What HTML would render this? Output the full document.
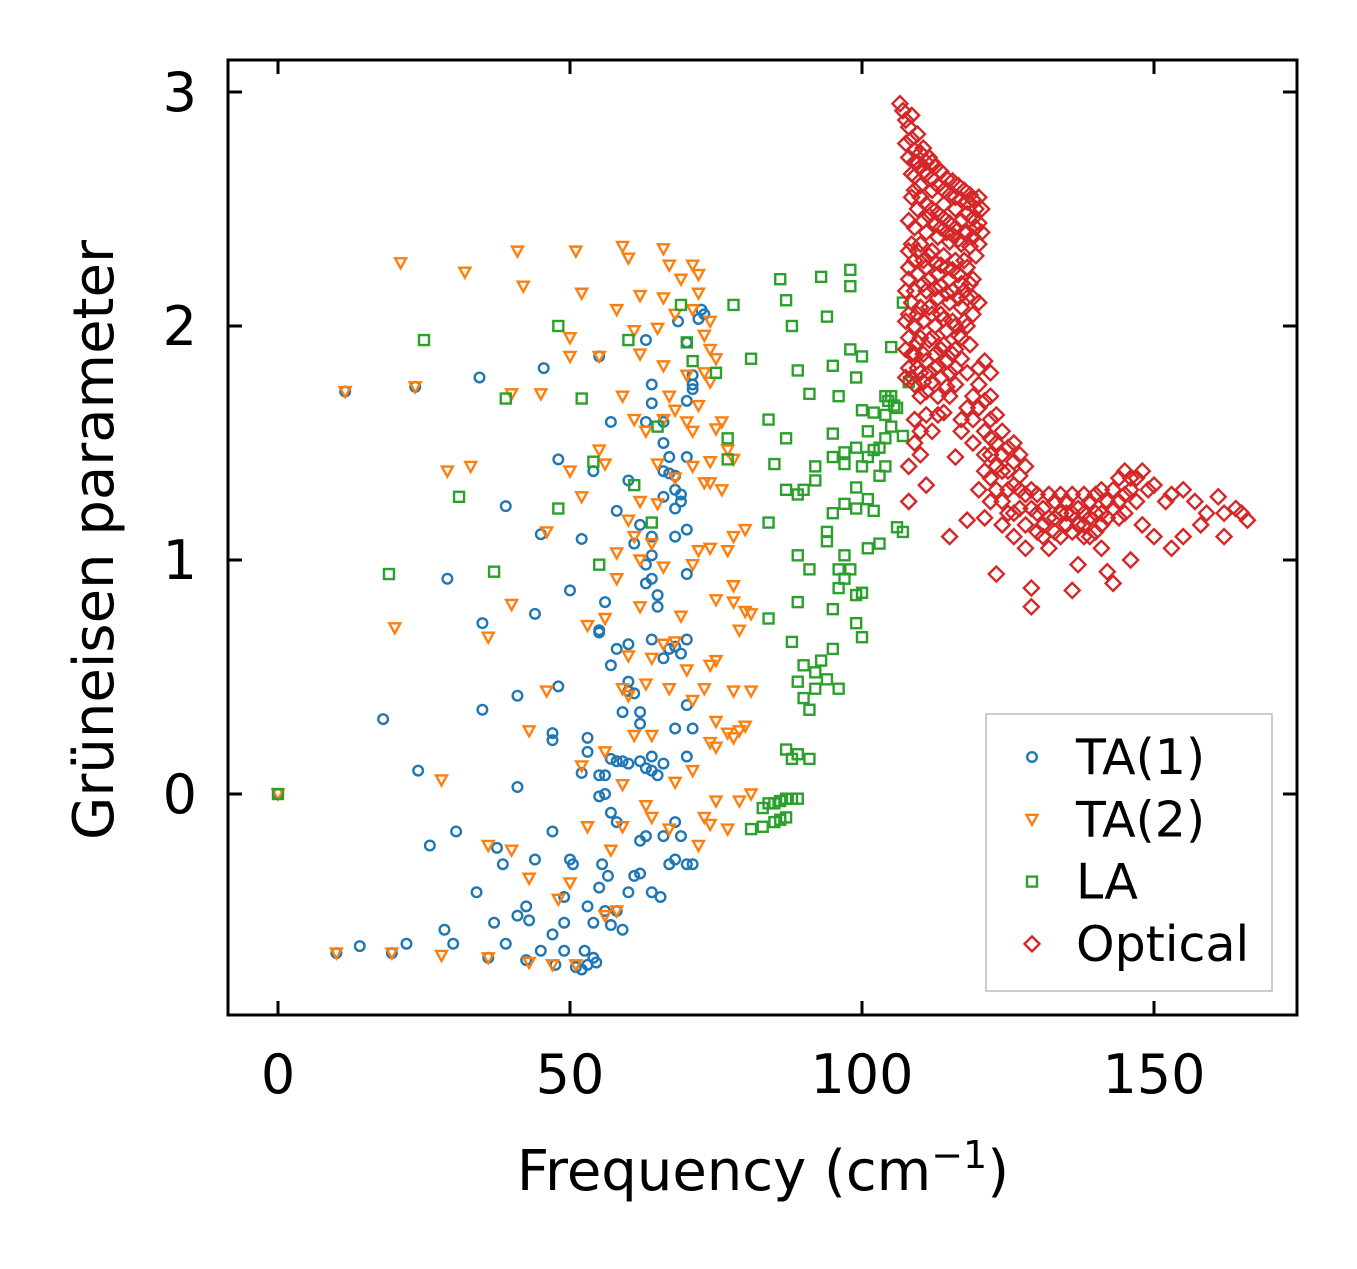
<!DOCTYPE html>
<html><head><meta charset="utf-8">
<style>
html,body{margin:0;padding:0;background:#fff;}
svg text{font-family:"DejaVu Sans","Liberation Sans",sans-serif;fill:#000;}
</style></head>
<body>
<svg id="chart" width="1357" height="1264" xmlns="http://www.w3.org/2000/svg">
<rect x="0" y="0" width="1357" height="1264" fill="#fff"/>
<g id="marks"></g>
<rect x="228" y="60" width="1069" height="955" fill="none" stroke="#000" stroke-width="3"/>
<g id="axes"></g>
<text x="763" y="1190" font-size="56" text-anchor="middle">Frequency (cm<tspan dy="-22" font-size="38">−1</tspan><tspan dy="22">)</tspan></text>
<text transform="translate(113,540) rotate(-90)" font-size="56" text-anchor="middle">Grüneisen parameter</text>
<g>
<rect x="986" y="714" width="286" height="277" fill="#fff" stroke="#bbb" stroke-width="1.5"/>
<g id="legend-items"></g>
</g>
</svg>
<script>
const xTicks=[0,50,100,150];
const yTicks=[0,1,2,3];
const ta1=[[0,0],[11.5,1.72],[23.5,1.74],[34.5,1.78],[45.5,1.82],[55,1.87],[63,1.94],[68.5,2.02],[72.5,2.07],[10,-0.68],[14,-0.65],[22,-0.64],[19.5,-0.68],[28.5,-0.58],[30,-0.64],[26,-0.22],[30.5,-0.16],[34,-0.42],[37,-0.55],[36,-0.7],[38.5,-0.3],[37.5,-0.23],[39,-0.64],[41,-0.52],[42.5,-0.48],[43,-0.54],[42.5,-0.71],[44,-0.28],[45,-0.67],[47,-0.6],[47,-0.16],[47.5,-0.73],[49,-0.44],[49,-0.55],[50,-0.28],[50.5,-0.3],[49,-0.67],[51,-0.74],[52.5,-0.67],[53,-0.73],[54,-0.7],[54.5,-0.72],[52,-0.75],[53,-0.48],[54,-0.55],[55,-0.4],[56,-0.5],[56.5,-0.35],[55.5,-0.3],[57,-0.56],[58,-0.5],[59,-0.58],[60,-0.42],[61,-0.35],[62,-0.34],[62,-0.2],[63,-0.18],[64,-0.42],[66,-0.18],[65.5,-0.44],[67,-0.3],[68,-0.28],[70,-0.3],[71,-0.3],[68,-0.12],[69,-0.18],[56,0],[55,-0.01],[57,-0.08],[58,-0.12],[56,0.08],[57,0.15],[58,0.14],[59,0.14],[60,0.13],[62,0.14],[63,0.11],[64,0.1],[64,0.16],[65,0.08],[66,0.13],[70,0.16],[71,0.28],[68,0.28],[70,0.38],[69,0.6],[66,0.58],[67,0.62],[68,0.63],[70,0.66],[61,0.43],[62,0.35],[62,0.3],[60,0.44],[60,0.48],[59,0.35],[58,0.62],[57,0.55],[55,0.69],[55,0.7],[56,0.82],[60,0.64],[64,0.66],[64,0.92],[65,0.85],[65,0.8],[63,0.98],[64,1.02],[63,0.9],[61,1.07],[62,1.15],[64,1.1],[66,1.27],[67,1.37],[67,1.44],[66,1.5],[68,1.3],[68,1.36],[69,1.28],[69,1.25],[70,1.13],[68,1.1],[70,0.94],[70,1.44],[70,1.68],[71,1.75],[71,1.79],[71,1.73],[70,1.93],[72,2.03],[73,2.05],[64,1.75],[64,1.67],[63,1.59],[66,1.59],[60,1.34],[58,1.21],[57,1.59],[54,1.38],[52,1.09],[50,0.87],[48,1.43],[45,1.11],[44,0.77],[35,0.73],[35,0.36],[29,0.92],[39,1.23],[41,0.42],[47,0.23],[47,0.26],[48,0.46],[52,0.09],[53,0.24],[53,0.18],[55,0.08],[41,0.03],[24,0.1],[18,0.32],[66,1.38],[68,1.22]];
const ta2=[[0,0],[11.5,1.72],[23.5,1.74],[55,1.87],[21,2.27],[32,2.23],[41,2.32],[51,2.32],[59,2.34],[66,2.33],[60,2.29],[67,2.26],[66,2.12],[62,2.13],[52,2.14],[42,2.17],[69,2.2],[71,2.26],[72,2.22],[72,2.14],[71,2.07],[74,2.02],[73,1.96],[74,1.9],[75,1.86],[73,1.8],[68,2.05],[65,1.99],[61,1.98],[58,2.07],[50,1.95],[50,1.87],[45,1.71],[40,1.71],[62,1.88],[66,1.83],[70,1.79],[74,1.76],[68,1.64],[61,1.6],[59,1.7],[67,1.7],[72,1.66],[70,1.59],[75,1.56],[76,1.59],[71,1.55],[66,1.6],[63,1.55],[55,1.47],[56,1.41],[50,1.38],[52,1.27],[46,1.12],[33,1.4],[29,1.38],[40,0.81],[36,0.67],[20,0.71],[65,1.41],[71,1.4],[74,1.42],[77,1.47],[78,1.43],[76,1.3],[73,1.33],[74,1.33],[68,1.35],[62,1.25],[65,1.24],[60,1.17],[61,1.1],[64,1.07],[62,1.0],[58,1.03],[58,0.92],[66,0.97],[71,0.98],[72,1.04],[74,1.05],[77,1.04],[78,1.1],[80,1.13],[78,0.89],[75,0.83],[78,0.82],[80,0.78],[81,0.77],[79,0.7],[69,0.76],[62,0.8],[56,0.75],[53,0.72],[68,0.65],[66,0.64],[64,0.58],[60,0.59],[59,0.45],[60,0.42],[63,0.47],[67,0.45],[70,0.53],[74,0.55],[75,0.57],[71,0.4],[73,0.45],[78,0.44],[81,0.44],[75,0.31],[77,0.26],[75,0.2],[78,0.24],[79,0.27],[80,0.29],[74,0.22],[71,0.1],[68,0.05],[64,0.25],[61,0.25],[56,0.18],[52,0.12],[59,0.04],[46,0.44],[43,0.27],[28,0.06],[75,-0.03],[79,-0.03],[81,0],[73,-0.1],[74,-0.13],[77,-0.15],[72,-0.22],[67,-0.15],[64,-0.1],[63,-0.05],[59,-0.14],[53,-0.14],[57,-0.24],[50,-0.38],[48,-0.45],[43,-0.36],[36,-0.22],[40,-0.24],[56,-0.52],[58,-0.5],[28,-0.69],[36,-0.7],[43,-0.72],[47,-0.73],[51,-0.73],[19.5,-0.68],[10,-0.68]];
const la=[[0,0],[19,0.94],[25,1.94],[31,1.27],[37,0.95],[39,1.69],[48,1.22],[48,2.0],[52,1.69],[54,1.42],[55,0.98],[60,1.94],[61,1.32],[64,1.16],[65,1.57],[69,2.09],[70,1.93],[71,1.85],[75,1.8],[77,1.52],[77,1.43],[78,2.09],[81,1.86],[84,1.6],[85,1.41],[84,1.16],[86,2.2],[87,2.11],[87,1.52],[87,1.3],[88,2.0],[89,1.81],[89,1.28],[89,1.02],[90,1.3],[91,1.71],[92,1.4],[92,1.34],[91,0.96],[93,2.21],[94,2.04],[95,1.83],[95,1.54],[95,1.44],[95,1.2],[94,1.12],[94,1.08],[96,1.7],[97,1.41],[97,1.46],[97,1.24],[97,1.02],[98,2.24],[98,2.17],[98,1.9],[99,1.78],[99,1.48],[99,1.31],[99,1.22],[99,0.73],[100,1.87],[100,1.64],[100,1.4],[101,1.55],[101,1.44],[101,1.26],[102,1.63],[102,1.47],[102,1.21],[103,1.48],[103,1.36],[104,1.52],[104,1.62],[104,1.4],[105,1.91],[105,1.57],[105,1.7],[106,1.65],[106,1.14],[107,2.1],[107,1.12],[108,1.76],[107,1.53],[104.5,1.68],[105.5,1.66],[104,1.7],[96,0.88],[97,0.92],[98,0.96],[99,0.85],[100,0.86],[101,1.05],[103,1.07],[100,0.67],[95,0.79],[95,0.62],[96,0.96],[93,0.57],[92,0.52],[94,0.49],[96,0.45],[89,0.48],[90,0.41],[91,0.36],[90,0.55],[92,0.45],[88,0.65],[89,0.82],[87,0.19],[88,0.15],[89,0.17],[91,0.15],[84,0.75],[83,-0.06],[84,-0.04],[85,-0.04],[86,-0.03],[87,-0.02],[88,-0.02],[89,-0.02],[86,-0.11],[87,-0.1],[85,-0.12],[83,-0.14],[81,-0.15]];
const optical=[[106.5,2.95],[107,2.92],[107.5,2.88],[108,2.85],[108.5,2.8],[107.5,2.78],[109,2.75],[108,2.72],[109.5,2.7],[110,2.68],[110.5,2.66],[109,2.64],[111,2.65],[112,2.63],[113,2.6],[114,2.58],[115,2.56],[116,2.55],[117,2.54],[118,2.53],[119,2.54],[120,2.55],[109,2.58],[110,2.55],[111,2.52],[112,2.5],[113,2.48],[114,2.46],[115,2.44],[116,2.42],[117,2.45],[118,2.48],[119,2.46],[120,2.44],[110,2.6],[112,2.58],[114,2.52],[116,2.5],[118,2.4],[119,2.38],[120,2.35],[117,2.35],[115,2.36],[113,2.38],[111,2.4],[109,2.42],[110,2.35],[112,2.32],[114,2.3],[116,2.28],[118,2.25],[119,2.2],[117,2.18],[115,2.2],[113,2.22],[111,2.25],[109,2.28],[108,2.25],[108,2.2],[109,2.15],[111,2.15],[113,2.12],[115,2.1],[117,2.08],[118,2.12],[119,2.05],[118,2.0],[116,2.0],[114,2.03],[112,2.05],[110,2.08],[109,2.0],[108,2.05],[108,1.95],[110,1.95],[112,1.95],[114,1.92],[116,1.9],[117,1.95],[109,1.88],[111,1.85],[113,1.83],[115,1.8],[110,1.8],[112,1.76],[111,1.72],[109,1.75],[108,1.82],[110,1.7],[113,1.7],[116,1.75],[118,1.65],[117,1.6],[119,1.6],[120,1.75],[121,1.85],[122,1.8],[120,1.82],[122,1.7],[123,1.62],[119,1.5],[121,1.55],[114,1.63],[112,1.55],[110,1.45],[109,1.5],[108,1.4],[108,1.25],[111,1.32],[116,1.44],[115,1.1],[118,1.17],[121,1.18],[120,1.3],[122,1.35],[123,1.4],[124,1.45],[124,1.55],[125,1.48],[125,1.38],[126,1.42],[127,1.36],[127,1.3],[128,1.28],[126,1.2],[123,0.94],[128,1.05],[129,1.22],[130,1.2],[129,0.88],[129,0.8],[131,1.1],[132,1.05],[133,1.12],[133,1.25],[134,1.2],[135,1.25],[136,1.2],[136,0.87],[137,1.15],[137,0.98],[138,1.2],[139,1.25],[139,1.1],[140,1.28],[141,1.05],[141,1.3],[142,1.25],[142,0.95],[143,0.9],[143,1.3],[144,1.35],[145,1.38],[146,1.3],[146,1.0],[147,1.35],[148,1.38],[148,1.15],[149,1.3],[150,1.32],[150,1.1],[152,1.25],[153,1.28],[153,1.05],[155,1.3],[155,1.1],[157,1.25],[158,1.15],[159,1.2],[161,1.27],[162,1.1],[162,1.2],[164,1.22],[165,1.2],[166,1.17],[131,1.15],[134,1.1],[138,1.15],[140,1.2],[144,1.18],[126,1.5],[122,1.25],[124,1.15],[120,1.65],[121,1.45],[118,1.8],[117,1.55],[119,1.7],
[108.5,2.9],[109.5,2.82],[110.5,2.76],[111.5,2.72],[112.5,2.68],[113.5,2.66],[114.5,2.63],[115.5,2.62],[116.5,2.6],[117.5,2.58],[118.5,2.56],[119.5,2.5],[109.5,2.5],[110.5,2.45],[111.5,2.47],[112.5,2.44],[113.5,2.42],[114.5,2.4],[115.5,2.39],[116.5,2.37],[117.5,2.4],[118.5,2.34],[119.5,2.3],[108.5,2.35],[109.5,2.32],[110.5,2.28],[111.5,2.3],[112.5,2.27],[113.5,2.26],[114.5,2.25],[115.5,2.24],[116.5,2.22],[117.5,2.28],[118.5,2.18],[108.5,2.1],[109.5,2.22],[110.5,2.18],[111.5,2.2],[112.5,2.16],[113.5,2.17],[114.5,2.14],[115.5,2.15],[116.5,2.12],[117.5,2.15],[109.5,2.05],[110.5,2.02],[111.5,2.08],[112.5,2.0],[113.5,2.05],[114.5,1.98],[115.5,2.02],[116.5,1.96],[117.5,2.02],[107.5,1.9],[108.5,1.88],[109.5,1.93],[110.5,1.88],[111.5,1.94],[112.5,1.88],[113.5,1.9],[114.5,1.85],[115.5,1.88],[107.5,1.78],[108.5,1.78],[109.5,1.82],[110.5,1.76],[111.5,1.8],[112.5,1.82],[113.5,1.78],[114.5,1.74],[107.5,2.15],[107.5,2.02],[108,2.32],[108,2.45],[108.5,2.55],[108.5,2.65],[109,2.7],[110,2.74],[111,2.7],[112,2.7],[120.5,2.5],[120.5,2.4],[119.5,2.42],[119,2.12],[120,2.1],[118.5,1.92],[117,1.86],[116,1.82],[115,1.7],[113,1.62],[111,1.62],[109,1.6],[110,1.55],[121,1.68],[122,1.6],[123,1.5],[124,1.38],[125,1.3],[126,1.32],[127,1.22],[128,1.15],[129,1.3],[130,1.28],[130,1.12],[131,1.22],[132,1.18],[132,1.28],[133,1.18],[134,1.28],[135,1.15],[135,1.2],[136,1.12],[136,1.28],[137,1.22],[138,1.1],[138,1.28],[139,1.18],[140,1.12],[141,1.2],[141,1.15],[142,1.18],[143,1.22],[144,1.25],[145,1.28],[145,1.2],[146,1.35],[147,1.25],[122,1.45],[123,1.3],[124,1.25],[125,1.2],[126,1.1],[127,1.45],[128,1.4],[121,1.38],[122,1.52]];

const legendLabels=["TA(1)","TA(2)","LA","Optical"];
const colors=["#1f77b4","#ff7f0e","#2ca02c","#d62728"];

const X=f=>278+f*5.84;
const Y=g=>794-g*234;
const NS="http://www.w3.org/2000/svg";
function marker(kind,cx,cy,color){
  let el;
  if(kind===0){el=document.createElementNS(NS,"circle");el.setAttribute("cx",cx);el.setAttribute("cy",cy);el.setAttribute("r",4.8);}
  else if(kind===1){el=document.createElementNS(NS,"polygon");el.setAttribute("points",`${cx-5.5},${cy-4.5} ${cx+5.5},${cy-4.5} ${cx},${cy+5.5}`);}
  else if(kind===2){el=document.createElementNS(NS,"rect");el.setAttribute("x",cx-5);el.setAttribute("y",cy-5);el.setAttribute("width",10);el.setAttribute("height",10);}
  else {el=document.createElementNS(NS,"polygon");el.setAttribute("points",`${cx},${cy-7.5} ${cx+7.5},${cy} ${cx},${cy+7.5} ${cx-7.5},${cy}`);}
  el.setAttribute("fill","none");el.setAttribute("stroke",color);el.setAttribute("stroke-width",2.4);
  return el;
}
const marks=document.getElementById("marks");
[ta1,ta2,la,optical].forEach((s,k)=>{
  const g=document.createElementNS(NS,"g");
  
  
  s.forEach(p=>{
    const m=marker(k,X(p[0]),Y(p[1]),colors[k]);
    
    
    g.appendChild(m);
  });
  marks.appendChild(g);
});
const axes=document.getElementById("axes");
function line(x1,y1,x2,y2){const l=document.createElementNS(NS,"line");l.setAttribute("x1",x1);l.setAttribute("y1",y1);l.setAttribute("x2",x2);l.setAttribute("y2",y2);l.setAttribute("stroke","#000");l.setAttribute("stroke-width",3);


axes.appendChild(l);}
function txt(x,y,s,anchor,name){const t=document.createElementNS(NS,"text");t.setAttribute("x",x);t.setAttribute("y",y);t.setAttribute("font-size",54);t.setAttribute("text-anchor",anchor);t.textContent=s;


axes.appendChild(t);}
xTicks.forEach(v=>{const x=X(v);line(x,1015,x,1001);line(x,60,x,74);txt(x,1093,String(v),"middle","x-tick-label");});
yTicks.forEach(v=>{const y=Y(v);line(228,y,242,y);line(1297,y,1283,y);txt(197,y+19,String(v),"end","y-tick-label");});
const li=document.getElementById("legend-items");
legendLabels.forEach((lab,k)=>{
  const y=757+k*62.3;
  const m=marker(k,1032,y,colors[k]);
  
  
  li.appendChild(m);
  const t=document.createElementNS(NS,"text");t.setAttribute("x",1076);t.setAttribute("y",y+17);t.setAttribute("font-size",49);t.textContent=lab;
  
  
  li.appendChild(t);
});
</script>
</body></html>
